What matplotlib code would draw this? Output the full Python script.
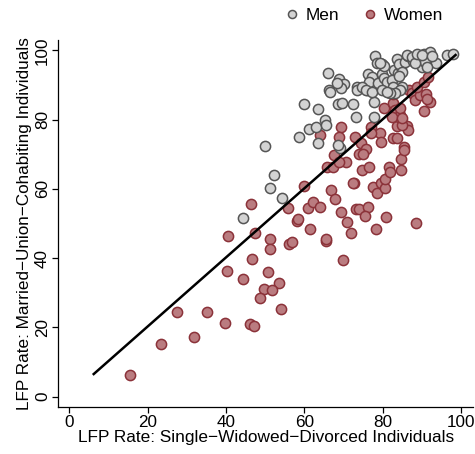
import matplotlib
matplotlib.use("Agg")
import matplotlib.pyplot as plt
from matplotlib.lines import Line2D

plt.rcParams['font.family'] = ['Liberation Sans', 'DejaVu Sans']

# Men: (single-widowed-divorced LFP, married/cohabiting LFP)
men_x = [44.4, 51.1, 52.3, 54.3, 50.0, 58.6, 61.1, 63.0, 65.3, 65.5, 63.4, 59.8, 63.5,
         66.1, 68.7, 70.0, 69.4, 66.2, 66.5, 68.6, 69.5, 72.4, 73.2, 77.8, 77.8, 69.1,
         68.6, 73.5, 73.4, 75.9, 76.1, 78.1, 78.5, 79.8, 77.6, 78.5, 80.0, 79.8, 81.9,
         81.4, 83.4, 82.9, 84.0, 84.6, 83.6, 84.2, 85.6, 84.9, 86.5, 87.8, 89.0, 90.4,
         92.1, 90.0, 90.7, 93.5, 96.3, 97.9, 80.2, 79.3, 84.9, 86.1, 87.4, 88.3, 88.8,
         89.9, 91.2, 92.5, 77.2, 76.6, 78.9, 80.2, 81.0, 82.3, 82.7, 84.4, 83.1, 81.9,
         84.2, 68.3, 74.6, 75.6, 77.2, 79.7, 81.0]
men_y = [51.7, 60.3, 63.9, 57.3, 72.3, 75.1, 77.2, 78.0, 79.9, 78.5, 73.2, 84.5, 83.0,
         93.6, 91.8, 90.4, 89.0, 88.5, 87.9, 84.4, 84.7, 84.5, 80.8, 85.1, 80.7, 71.9,
         72.6, 89.4, 88.5, 88.5, 93.2, 98.3, 96.4, 96.2, 90.9, 89.7, 90.5, 93.1, 90.5,
         88.0, 91.4, 94.3, 93.4, 95.3, 97.5, 96.2, 96.6, 89.5, 98.4, 97.0, 98.2, 99.1,
         99.6, 95.3, 96.7, 96.5, 98.8, 99.1, 95.5, 96.4, 93.8, 98.6, 98.0, 96.4, 98.9,
         98.6, 95.3, 98.4, 92.4, 90.9, 90.5, 91.9, 90.9, 91.4, 89.5, 88.5, 87.6, 87.6,
         92.6, 90.5, 89.5, 88.5, 88.0, 88.5, 88.0]

# Women
women_x = [15.4, 23.3, 31.8, 27.6, 35.1, 39.8, 46.1, 47.2, 40.3, 44.4, 46.6, 50.6, 53.6,
           49.6, 51.7, 48.6, 54.0, 40.4, 47.5, 51.2, 51.2, 56.1, 56.9, 58.1, 46.3, 59.9,
           55.7, 58.4, 60.9, 62.1, 63.9, 61.5, 65.4, 65.4, 66.9, 67.7, 65.7, 72.6, 69.4,
           70.9, 72.0, 73.1, 74.0, 76.2, 75.5, 69.8, 78.2, 80.7, 88.5, 77.4, 78.5, 79.5,
           80.6, 64.0, 69.4, 68.7, 72.9, 67.6, 67.4, 70.6, 74.4, 75.6, 73.9, 74.9, 74.7,
           76.6, 80.6, 81.7, 81.9, 84.6, 84.7, 85.5, 85.4, 82.6, 83.6, 79.3, 79.6, 77.0,
           83.5, 86.1, 86.5, 82.7, 84.1, 90.4, 80.2, 82.6, 83.2, 84.4, 82.3, 84.9, 86.8,
           87.4, 88.3, 89.4, 88.7, 90.4, 91.6, 91.1, 92.1, 91.2, 82.7, 84.4, 84.9, 68.7,
           77.0, 72.5]
women_y = [6.3, 15.1, 17.3, 24.4, 24.4, 21.2, 21.1, 20.4, 36.4, 34.1, 39.7, 35.9, 32.9,
           31.1, 30.8, 28.5, 25.4, 46.5, 47.2, 45.4, 42.6, 44.1, 44.8, 50.8, 55.7, 60.8,
           54.6, 51.2, 54.6, 56.1, 54.8, 48.3, 45.0, 45.6, 59.6, 57.1, 66.2, 61.6, 53.4,
           50.5, 47.3, 54.3, 54.2, 54.7, 52.2, 39.4, 48.3, 52.0, 50.1, 60.6, 58.9, 61.8,
           60.2, 75.5, 77.8, 75.1, 75.1, 69.7, 66.2, 67.7, 73.2, 71.4, 70.2, 70.0, 65.4,
           66.4, 62.8, 66.4, 64.9, 65.4, 68.6, 72.0, 71.2, 74.6, 74.6, 76.0, 73.5, 77.8,
           78.1, 78.2, 77.1, 81.3, 80.8, 82.5, 83.3, 84.9, 82.8, 81.3, 80.8, 78.4, 88.5,
           87.6, 85.7, 87.1, 89.5, 90.9, 92.4, 87.4, 85.2, 86.1, 87.4, 83.5, 80.6, 67.7,
           76.0, 61.6]

# Fitted line
fit_intercept = 0.3
fit_slope = 0.998
fit_range = [6.0, 98.8]

x_ticks = [0, 20, 40, 60, 80, 100]
y_ticks = [0, 20, 40, 60, 80, 100]
x_label = "LFP Rate: Single\u2212Widowed\u2212Divorced Individuals"
y_label = "LFP Rate: Married\u2212Union\u2212Cohabiting Individuals"

men_face, men_edge = "#d3d3d3", "#555555"
women_face, women_edge = "#ba7c80", "#8b3239"

fig = plt.figure(figsize=(4.75, 4.54), dpi=100)
ax = fig.add_axes([0.1227, 0.1042, 0.873, 0.8077])

ax.scatter(women_x, women_y, s=54, facecolor=women_face, edgecolor=women_edge,
           linewidth=1.1, zorder=2)
ax.scatter(men_x, men_y, s=54, facecolor=men_face, edgecolor=men_edge,
           linewidth=1.1, zorder=3)
fy = [fit_intercept + fit_slope * v for v in fit_range]
ax.plot(fit_range, fy, color="black", lw=1.8, zorder=4, solid_capstyle="butt")

ax.set_xlim(-2.8, 103.0)
ax.set_ylim(-2.9, 103.0)
ax.set_xticks(x_ticks)
ax.set_yticks(y_ticks)
ax.spines['top'].set_visible(False)
ax.spines['right'].set_visible(False)
for sp in ['left', 'bottom']:
    ax.spines[sp].set_linewidth(0.9)
ax.tick_params(direction='out', length=4, width=0.9, labelsize=12.3, pad=2)
for lab in ax.get_yticklabels():
    lab.set_rotation(90)
    lab.set_va('center')
ax.set_xlabel(x_label, fontsize=12.4, labelpad=0)
ax.set_ylabel(y_label, fontsize=12.3, labelpad=2)

handles = [Line2D([], [], marker='o', ls='none', markersize=5.8, markerfacecolor=men_face,
                  markeredgecolor=men_edge, markeredgewidth=1.1, label="Men"),
           Line2D([], [], marker='o', ls='none', markersize=5.8, markerfacecolor=women_face,
                  markeredgecolor=women_edge, markeredgewidth=1.1, label="Women")]
fig.legend(handles=handles, loc='center', bbox_to_anchor=(0.765, 0.965), ncol=2,
           frameon=False, fontsize=12.4, handletextpad=0.3, columnspacing=1.3,
           handlelength=1.0)

fig.savefig("out.png", dpi=100)
